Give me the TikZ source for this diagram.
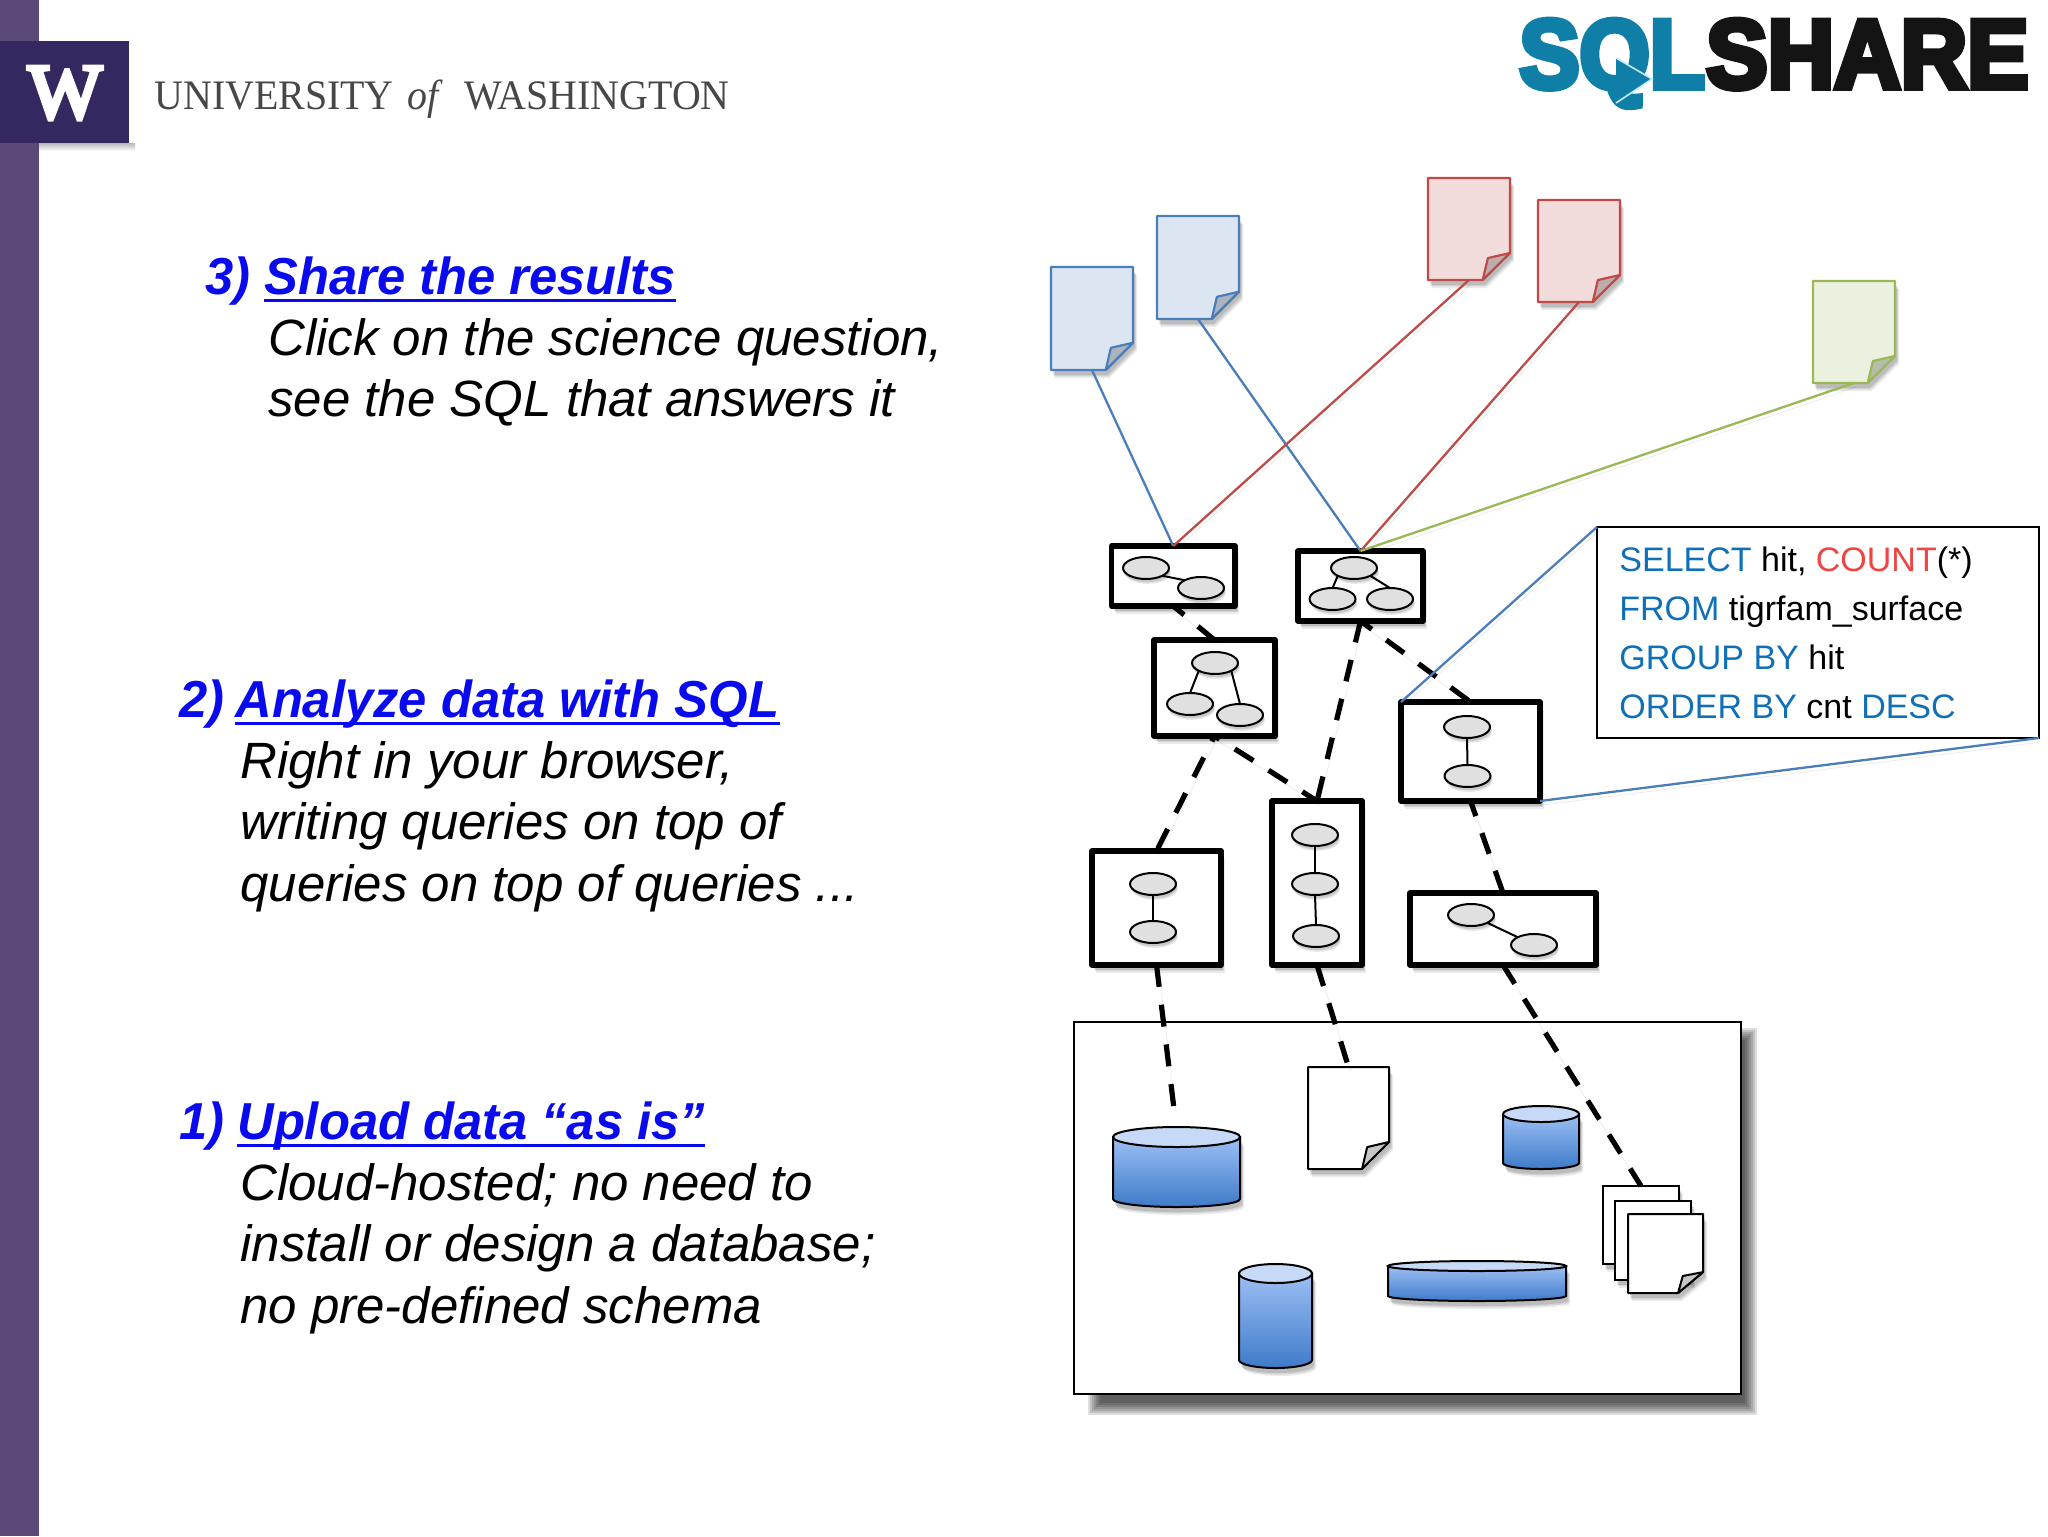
\documentclass[tikz,border=0pt]{standalone}
\usepackage{fontspec}
\setmainfont{Liberation Sans}
\newfontfamily\headfont[FakeStretch=0.975]{Liberation Sans}
\newfontfamily\uwfont[FakeStretch=0.95]{Liberation Serif}
\newfontfamily\wfont[FakeBold=6]{Liberation Serif}
\newfontfamily\sqlfont[FakeStretch=0.92,FakeBold=6]{Liberation Sans}
\newfontfamily\sharefont[FakeStretch=0.94,FakeBold=6]{Liberation Sans}
\usetikzlibrary{shadows,shapes.geometric}
\definecolor{uwdark}{HTML}{35275F}
\definecolor{uwbar}{HTML}{5A4A78}
\definecolor{linkblue}{HTML}{0A0AEE}
\definecolor{sqlblue}{HTML}{0F70B7}
\definecolor{sqlred}{HTML}{EE4444}
\definecolor{logoteal}{HTML}{0F7FA8}
\definecolor{ablue}{HTML}{4A7EBB}
\definecolor{ared}{HTML}{BE4B48}
\definecolor{agreen}{HTML}{98B954}
\definecolor{fblue}{HTML}{DCE6F2}
\definecolor{fred}{HTML}{F2DCDB}
\definecolor{fgreen}{HTML}{EBF1DE}
\definecolor{cyltop}{HTML}{C6DAF8}
\definecolor{cylhi}{HTML}{9CBFF4}
\definecolor{cyllo}{HTML}{3E7BC9}
\newcommand{\docshape}[8]{%
 \coordinate (#1t) at (#2+#4/2,#3);
 \coordinate (#1b) at (#2+#4/2,#3+#5);
 \path[draw=#6,fill=#7,line width=#8,sh,line join=round] (#2,#3) -- (#2+#4,#3) -- (#2+#4,#3+.735*#5) -- (#2+.667*#4,#3+#5) -- (#2,#3+#5) -- cycle;
 \path[draw=#6,fill=black!22!#7,line width=#8,line join=round] (#2+#4,#3+.735*#5) -- (#2+.73*#4,#3+.785*#5) -- (#2+.667*#4,#3+#5) -- cycle;
}
\newcommand{\cyl}[6]{% x1 x2 toptop topbot sideend bottom
 \pgfmathsetmacro{\cx}{(#1+#2)/2}\pgfmathsetmacro{\ca}{(#2-#1)/2}
 \pgfmathsetmacro{\cc}{(#3+#4)/2}\pgfmathsetmacro{\cr}{(#4-#3)/2}
 \pgfmathsetmacro{\cka}{.55*\ca}\pgfmathsetmacro{\ckr}{.55*(#6-#5)}
 \path[sh] (#1,\cc) -- (#1,#5) .. controls (#1,#5+\ckr) and (\cx-\cka,#6) .. (\cx,#6) .. controls (\cx+\cka,#6) and (#2,#5+\ckr) .. (#2,#5) -- (#2,\cc) -- cycle;
 \path[draw=black,line width=1pt,top color=cylhi,bottom color=cyllo] (#1,\cc) -- (#1,#5) .. controls (#1,#5+\ckr) and (\cx-\cka,#6) .. (\cx,#6) .. controls (\cx+\cka,#6) and (#2,#5+\ckr) .. (#2,#5) -- (#2,\cc) -- cycle;
 \path[draw=black,line width=1pt,fill=cyltop] (\cx,\cc) ellipse [x radius=\ca,y radius=\cr];
}
\begin{document}
\begin{tikzpicture}[x=0.5pt,y=-0.5pt,
  sh/.style={general shadow={shadow xshift=1pt,shadow yshift=-2.5pt,opacity=.10,fill=black},
             general shadow={shadow xshift=1.5pt,shadow yshift=-3.2pt,opacity=.10,fill=black},
             general shadow={shadow xshift=2pt,shadow yshift=-4pt,opacity=.08,fill=black}},
  esh/.style={general shadow={shadow xshift=.6pt,shadow yshift=-1.6pt,opacity=.12,fill=black},
             general shadow={shadow xshift=.9pt,shadow yshift=-2.4pt,opacity=.10,fill=black}},
  lsh/.style={preaction={draw=black,opacity=.08,transform canvas={xshift=1pt,yshift=-2pt}}},
  qbox/.style={draw=black,line width=2.7pt,fill=white,line join=round,outer sep=0pt,inner sep=0pt,anchor=north west,sh},
  elli/.style={draw=black,line width=1pt,fill=black!12,ellipse,minimum width=23pt,minimum height=11pt,inner sep=0pt,outer sep=0pt,esh},
  edgeline/.style={draw=black,line width=1pt},
  dep/.style={draw=black,line width=2.6pt,dash pattern=on 11pt off 9pt,lsh},
  link/.style={line width=1.15pt,lsh},
  ulbar/.style={draw=linkblue,line width=1.5pt},
  blk/.style={font=\itshape\fontsize{25.5}{31}\selectfont,text=black,anchor=base west,inner sep=0pt},
  lnk/.style={font=\headfont\bfseries\itshape\fontsize{26}{31}\selectfont,text=linkblue,anchor=base west,inner sep=0pt},
  sq/.style={font=\fontsize{17}{20}\selectfont,anchor=base west,inner sep=0pt},
]
\useasboundingbox (0,0) rectangle (2048,1536);
\fill[white] (0,0) rectangle (2048,1536);
\fill[uwbar] (0,0) rectangle (39,1536);
\shade[top color=black!28,bottom color=white] (39,143) rectangle (135,151);
\fill[uwdark] (0,41) rectangle (129,143);
\node[font=\wfont\fontsize{39}{39}\selectfont,text=white,anchor=base,inner sep=0pt] (wlogo) at (65,118) {W};
\node[font=\uwfont\fontsize{21}{21}\selectfont,text=black!72,anchor=base west,inner sep=0pt] (uwname) at (154,110) {UNIVERSITY\hspace*{7pt}\textit{of}\hspace*{10.5pt}WASHINGTON};
% logo
\node[font=\sqlfont\bfseries\fontsize{49}{49}\selectfont,text=logoteal,anchor=base west,inner sep=0pt] (sql) at (1519,88) {SQL};
\node[font=\sharefont\bfseries\fontsize{49}{49}\selectfont,text=black!92,anchor=base east,inner sep=0pt] (share) at (2029,88) {SHARE};
\fill[logoteal] (1616,58) -- (1652,79) -- (1616,103) -- cycle;
\draw[cyan!25,line width=.8pt] (1616,58) -- (1652,79) -- (1616,103);
% text
\node[lnk] (n3) at (205,294) {3)};
\node[lnk] (t3) at (264,294) {Share the results};
\node[blk] (t3a) at (268,355) {Click on the science question,};
\node[blk] (t3b) at (268,416) {see the SQL that answers it};
\node[lnk] (n2) at (179,717) {2)};
\node[lnk] (t2) at (235,717) {Analyze data with SQL};
\node[blk] (t2a) at (240,778) {Right in your browser,};
\node[blk] (t2b) at (240,839) {writing queries on top of};
\node[blk] (t2c) at (240,901) {queries on top of queries ...};
\node[lnk] (n1) at (179,1139) {1)};
\node[lnk] (t1) at (237,1139) {Upload data “as is”};
\node[blk] (t1a) at (240,1200) {Cloud-hosted; no need to};
\node[blk] (t1b) at (240,1261) {install or design a database;};
\node[blk] (t1c) at (240,1323) {no pre-defined schema};
\draw[ulbar] ([yshift=-3.2pt]t3.base west) -- ([yshift=-3.2pt]t3.base east);
\draw[ulbar] ([yshift=-3.2pt]t2.base west) -- ([yshift=-3.2pt]t2.base east);
\draw[ulbar] ([yshift=-3.2pt]t1.base west) -- ([yshift=-3.2pt]t1.base east);
% big box with soft shadow
\foreach \i in {0,...,6} {
  \fill[black,opacity=.13] (1088+2*\i,1028+2*\i) rectangle (1757-2*\i,1415-2*\i);
}
\node[draw=black,line width=1pt,fill=white,minimum width=333.5pt,minimum height=186pt,inner sep=0pt,outer sep=0pt,anchor=north west] (store) at (1074,1022) {};
% stored data
\cyl{1113}{1240}{1127}{1147}{1199}{1207}
\cyl{1503}{1579}{1106}{1122}{1163}{1169}
\cyl{1239}{1312}{1264}{1283}{1360}{1368}
\cyl{1388}{1566}{1261}{1271}{1296}{1301}
\coordinate (cA) at (1174,1109);
\docshape{dF}{1308}{1067}{81}{102}{black}{white}{1pt}
\path[draw=black,fill=white,line width=1pt,sh] (1603,1186) rectangle (1679,1264);
\coordinate (dGt) at (1641,1186);
\path[draw=black,fill=white,line width=1pt,sh] (1615,1201) rectangle (1691,1280);
\docshape{dH}{1628}{1214}{75}{79}{black}{white}{1pt}
% top documents
\docshape{dA}{1051}{267}{82}{103}{ablue}{fblue}{1.1pt}
\docshape{dB}{1157}{216}{82}{103}{ablue}{fblue}{1.1pt}
\docshape{dC}{1428}{178}{82}{102}{ared}{fred}{1.1pt}
\docshape{dD}{1538}{200}{82}{102}{ared}{fred}{1.1pt}
\docshape{dE}{1813}{281}{82}{102}{agreen}{fgreen}{1.1pt}
% query boxes
\node[qbox,minimum width=61.75pt,minimum height=30pt] (q1) at (1111.5,546) {};
\node[qbox,minimum width=62.5pt,minimum height=35pt] (q2) at (1298,551) {};
\node[qbox,minimum width=60.5pt,minimum height=48pt] (q3) at (1154,640) {};
\node[qbox,minimum width=69.5pt,minimum height=49.5pt] (q4) at (1401,702) {};
\node[qbox,minimum width=64.5pt,minimum height=57pt] (q5) at (1092,851) {};
\node[qbox,minimum width=45pt,minimum height=82pt] (q6) at (1272,801) {};
\node[qbox,minimum width=93pt,minimum height=36pt] (q7) at (1410,893) {};
% q1
\node[elli] (a1) at (1146,568) {}; \node[elli] (a2) at (1201,588) {};
\draw[edgeline] (a1.south east) -- (a2.north west);
% q2
\node[elli] (b1) at (1354,568) {}; \node[elli] (b2) at (1332.5,599) {}; \node[elli] (b3) at (1390,599) {};
\draw[edgeline] (b1.south west) -- (b2.north);
\draw[edgeline] (b1.south east) -- (b3.north);
% q3
\node[elli] (c1) at (1215,663) {}; \node[elli] (c2) at (1190,704) {}; \node[elli] (c3) at (1240,715) {};
\draw[edgeline] (c1.south west) -- (c2.north);
\draw[edgeline] (c1.south east) -- (c3.north);
% q4
\node[elli] (d1) at (1467,727) {}; \node[elli] (d2) at (1467.5,776) {};
\draw[edgeline] (d1.south) -- (d2.north);
% q5
\node[elli] (f1) at (1153,884) {}; \node[elli] (f2) at (1153,932) {};
\draw[edgeline] (f1.south) -- (f2.north);
% q6
\node[elli] (g1) at (1315,835) {}; \node[elli] (g2) at (1315,884) {}; \node[elli] (g3) at (1316,936) {};
\draw[edgeline] (g1.south) -- (g2.north);
\draw[edgeline] (g2.south) -- (g3.north);
% q7
\node[elli] (h1) at (1471,915) {}; \node[elli] (h2) at (1534,945) {};
\draw[edgeline] (h1.south east) -- (h2.north west);
% dependencies
\draw[dep,dash phase=4pt] (q1.south) -- (q3.north);
\draw[dep,dash phase=4pt] (q2.south) -- (q4.north);
\draw[dep] (q2.south) -- (q6.north);
\draw[dep,dash phase=8pt] (q3.south) -- (q5.north);
\draw[dep,dash phase=8pt] (q3.south) -- (q6.north);
\draw[dep,dash phase=3pt] (q4.south) -- (q7.north);
\draw[dep] (q5.south) -- (cA);
\draw[dep] (q6.south) -- (dFt);
\draw[dep] (q7.south) -- (dGt);
% links
\draw[link,ablue] (dAb) -- (q1.north);
\draw[link,ablue] (dBb) -- (q2.north);
\draw[link,ared] (dCb) -- (q1.north);
\draw[link,ared] (dDb) -- (q2.north);
\draw[link,agreen] (dEb) -- (q2.north);
% SQL box
\node[draw=black,line width=.9pt,fill=white,minimum width=221pt,minimum height=105.5pt,inner sep=0pt,outer sep=0pt,anchor=north west] (sqlbox) at (1597,527) {};
\draw[link,ablue] (sqlbox.north west) -- (q4.north west);
\draw[link,ablue] (sqlbox.south east) -- (q4.south east);
\node[sq] (s1) at (1619,571) {\textcolor{sqlblue}{SELECT} hit, \textcolor{sqlred}{COUNT}(*)};
\node[sq] (s2) at (1619,620) {\textcolor{sqlblue}{FROM} tigrfam\_surface};
\node[sq] (s3) at (1619,669) {\textcolor{sqlblue}{GROUP BY} hit};
\node[sq] (s4) at (1619,718) {\textcolor{sqlblue}{ORDER BY} cnt \textcolor{sqlblue}{DESC}};
\end{tikzpicture}
\end{document}
